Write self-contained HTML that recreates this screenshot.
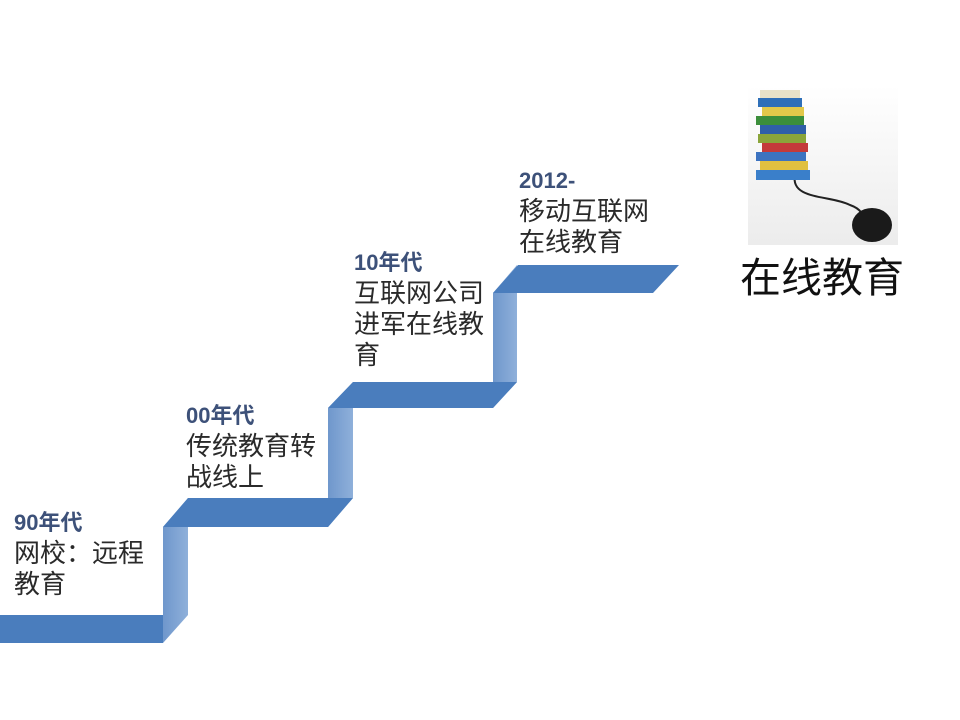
<!DOCTYPE html>
<html><head><meta charset="utf-8"><style>
body{margin:0;width:960px;height:720px;background:#fff;overflow:hidden;position:relative;font-family:"Liberation Sans","Noto Sans CJK SC",sans-serif}
.t{position:absolute;font-size:26px;line-height:31px;color:#2a2a2a;white-space:nowrap}
.t b{color:#3d5179;font-size:22px}
</style></head><body>
<svg width="960" height="720" style="position:absolute;left:0;top:0">
<defs><linearGradient id="r" x1="0" x2="1"><stop offset="0" stop-color="#6f97cc"/><stop offset="1" stop-color="#8fb0da"/></linearGradient>
<linearGradient id="bg" x1="0" y1="0" x2="0" y2="1"><stop offset="0" stop-color="#fff"/><stop offset="1" stop-color="#ececec"/></linearGradient></defs>
<g fill="url(#r)">
<polygon points="163,527 188,498 188,615 163,643"/>
<polygon points="328,408 353,382 353,498 328,527"/>
<polygon points="493,293 517,265 517,382 493,408"/>
</g>
<g fill="#4a7dbd">
<polygon points="0,615 163,615 163,643 0,643"/>
<polygon points="188,498 353,498 328,527 163,527"/>
<polygon points="353,382 517,382 493,408 328,408"/>
<polygon points="518,265 679,265 653,293 493,293"/>
</g>
<g>
<rect x="748" y="85" width="150" height="160" fill="url(#bg)"/>
<path d="M795 175 C790 200 830 195 850 205 C870 212 860 225 870 230" stroke="#222" stroke-width="2" fill="none"/>
<ellipse cx="872" cy="225" rx="20" ry="17" fill="#1a1a1a"/>
<rect x="760" y="90" width="40" height="8" fill="#e8e2c8"/>
<rect x="758" y="98" width="44" height="9" fill="#2e6fb8"/>
<rect x="762" y="107" width="42" height="9" fill="#e2c84a"/>
<rect x="756" y="116" width="48" height="9" fill="#3b8e3b"/>
<rect x="760" y="125" width="46" height="9" fill="#2f5fa8"/>
<rect x="758" y="134" width="48" height="9" fill="#8aa53a"/>
<rect x="762" y="143" width="46" height="9" fill="#c43a3a"/>
<rect x="756" y="152" width="50" height="9" fill="#3c73c0"/>
<rect x="760" y="161" width="48" height="9" fill="#e0c040"/>
<rect x="756" y="170" width="54" height="10" fill="#3a7fca"/>
</g>
</svg>
<div class="t" style="left:14px;top:506px"><b>90年代</b><br>网校：远程<br>教育</div>
<div class="t" style="left:186px;top:399px"><b>00年代</b><br>传统教育转<br>战线上</div>
<div class="t" style="left:354px;top:246px"><b>10年代</b><br>互联网公司<br>进军在线教<br>育</div>
<div class="t" style="left:519px;top:164px"><b>2012-</b><br>移动互联网<br>在线教育</div>
<div style="position:absolute;left:740px;top:253px;font-size:41px;line-height:50px;color:#111">在线教育</div>
</body></html>
